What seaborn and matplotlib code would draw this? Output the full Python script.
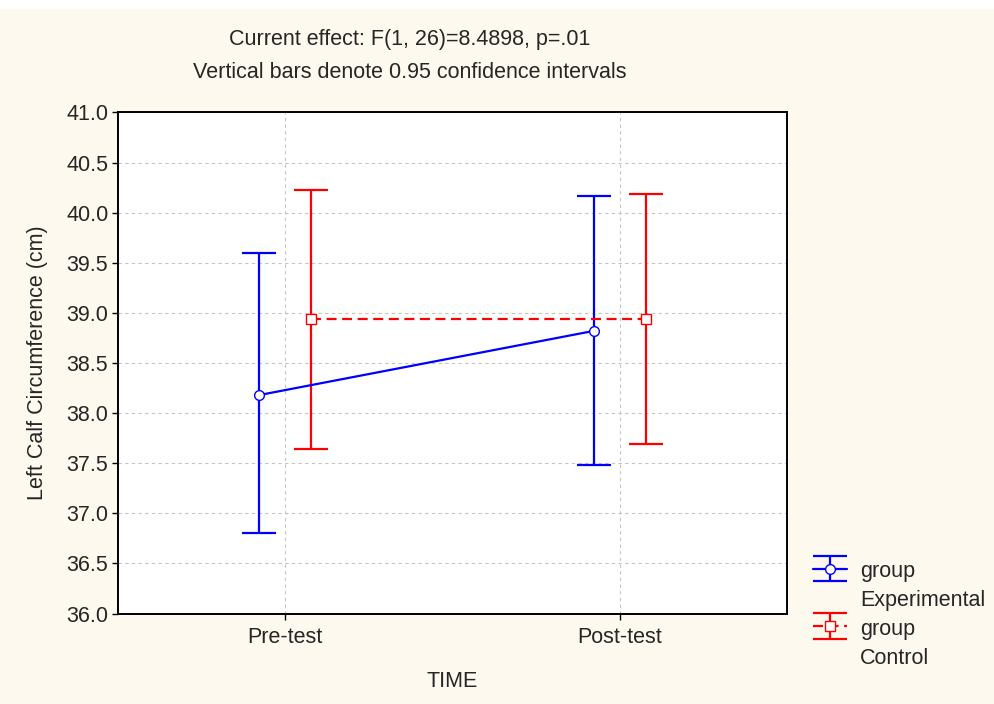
import numpy as np
import pandas as pd
import matplotlib
matplotlib.use("Agg")
import matplotlib.pyplot as plt
from matplotlib.container import ErrorbarContainer
from matplotlib.legend_handler import HandlerErrorbar
from matplotlib.lines import Line2D
import seaborn as sns

# values
times = ["Pre-test", "Post-test"]
groups = ["Experimental", "Control"]
exp_mean = [38.18, 38.82]
exp_low = [36.80, 37.48]
exp_high = [39.60, 40.17]
ctrl_mean = [38.94, 38.94]
ctrl_low = [37.64, 37.69]
ctrl_high = [40.23, 40.19]
y_ticks = [36.0, 36.5, 37.0, 37.5, 38.0, 38.5, 39.0, 39.5, 40.0, 40.5, 41.0]

title1 = "Current effect: F(1, 26)=8.4898, p=.01"
title2 = "Vertical bars denote 0.95 confidence intervals"

rows = []
for g, m, lo, hi in [("Experimental", exp_mean, exp_low, exp_high),
                     ("Control", ctrl_mean, ctrl_low, ctrl_high)]:
    for i, t in enumerate(times):
        rows.append({"group": g, "TIME": t, "idx": i, "mean": m[i], "lo": lo[i], "hi": hi[i]})
df = pd.DataFrame(rows)

sns.set_style("white")
plt.rcParams['font.family'] = ['Liberation Sans', 'DejaVu Sans']
fs = 15.5

bg = '#FDF9EF'
fig = plt.figure(figsize=(9.94, 7.04), dpi=100, facecolor=bg)
fig.add_artist(plt.Rectangle((0, 1 - 9 / 704), 1, 9 / 704, transform=fig.transFigure,
                             facecolor='white', edgecolor='none'))
ax = fig.add_axes([118 / 994, 1 - 613.6 / 704, 669 / 994, 501.2 / 704])
ax.set_facecolor('white')

style = {
    "Experimental": dict(color='#0000FF', marker='o', ls='-', off=-0.078),
    "Control": dict(color='#FF0000', marker='s', ls=(0, (4.5, 2.5)), off=0.078),
}

handles = []
labels = []
blank = Line2D([], [], linestyle='none', marker='none')
for g in groups:
    s = style[g]
    sub = df[df["group"] == g].copy()
    sub["x"] = sub["idx"] + s["off"]
    eb = ax.errorbar(sub["x"], sub["mean"],
                     yerr=[sub["mean"] - sub["lo"], sub["hi"] - sub["mean"]],
                     fmt='none', ecolor=s["color"], elinewidth=1.6,
                     capsize=12, capthick=1.6, zorder=3)
    sns.lineplot(data=sub, x="x", y="mean", color=s["color"], marker=s["marker"],
                 linestyle=s["ls"], linewidth=1.6, markersize=7,
                 markerfacecolor='white', markeredgecolor=s["color"],
                 markeredgewidth=1.0, ax=ax, legend=False, zorder=4)
    line = ax.lines[-1]
    proxy = ErrorbarContainer((line, eb.lines[1], eb.lines[2]), has_xerr=False, has_yerr=True)
    handles += [proxy, blank]
    labels += ["group", g]

ax.set_xlim(-0.5, 1.5)
ax.set_ylim(36, 41)
ax.set_xticks(range(len(times)))
ax.set_xticklabels(times)
ax.set_yticks(y_ticks)
ax.set_yticklabels([f"{v:.1f}" for v in y_ticks])
ax.grid(True, color='#C4C4C4', linestyle=(0, (3, 3)), linewidth=0.8)
ax.set_axisbelow(True)
for sp in ax.spines.values():
    sp.set_color('black')
    sp.set_linewidth(1.4)
ax.tick_params(axis='both', direction='out', length=4, width=1, color='black',
               labelsize=fs, pad=3, bottom=True, left=True)
ax.tick_params(axis='x', pad=6)

ax.set_xlabel("TIME", fontsize=fs)
ax.set_ylabel("Left Calf Circumference (cm)", fontsize=fs)
ax.xaxis.set_label_coords(0.5, -0.114)
ax.yaxis.set_label_coords(-0.105, 0.5)

fig.text(410 / 994, 1 - 40 / 704, title1, ha='center', va='center', fontsize=fs)
fig.text(410 / 994, 1 - 73 / 704, title2, ha='center', va='center', fontsize=fs)

fig.legend(handles, labels, loc='upper left', bbox_to_anchor=(813 / 994, 1 - 560 / 704),
           frameon=False, fontsize=fs, handlelength=1.6, handleheight=1.0,
           handletextpad=0.6, labelspacing=0.32, numpoints=1, borderaxespad=0,
           borderpad=0, handler_map={ErrorbarContainer: HandlerErrorbar(yerr_size=0.6)})

fig.savefig("out.png", dpi=100, facecolor=bg)
